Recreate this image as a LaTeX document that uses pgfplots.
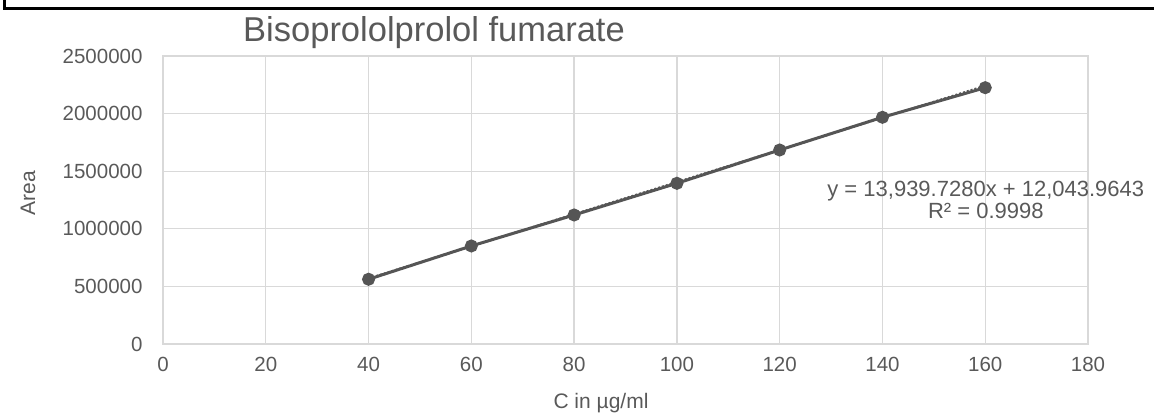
\documentclass[border=0pt]{standalone}
\usepackage{fontspec}
\setmainfont{Liberation Sans}
\usepackage{pgfplots}
\pgfplotsset{compat=1.18}
\definecolor{txt}{HTML}{595959}
\definecolor{gridc}{HTML}{D9D9D9}
\definecolor{ln}{HTML}{555555}
\begin{document}
\begin{tikzpicture}[x=1bp,y=1bp]
\path[use as bounding box] (0,0) rectangle (1154,417);
\draw[line width=3bp,black] (4.5,417) -- (4.5,408.5) -- (1154,408.5);
\begin{axis}[
  at={(163bp,73bp)}, anchor=south west, scale only axis,
  width=925bp, height=288bp,
  xmin=0, xmax=180, ymin=0, ymax=2500000,
  xtick={0,20,...,180}, ytick={0,500000,1000000,1500000,2000000,2500000},
  scaled y ticks=false,
  /pgf/number format/.cd, fixed, 1000 sep={}, assume math mode=true, /pgfplots/.cd,
  grid=major, major grid style={gridc, line width=1.3bp},
  axis line style={gridc, line width=1.6bp},
  major tick length=0pt,
  tick label style={font=\fontsize{20.5bp}{24bp}\selectfont, text=txt},
  yticklabel style={xshift=-17bp},
  xticklabel style={yshift=-10bp},
  xlabel={C in µg/ml},
  xlabel style={at={(axis description cs:0.4735,-0.205)}, anchor=center, font=\fontsize{21bp}{25bp}\selectfont, text=txt},
  ylabel={Area},
  ylabel style={at={(axis description cs:-0.146,0.524)}, anchor=center, rotate=0, font=\fontsize{21bp}{25bp}\selectfont, text=txt},
  title={Bisoprololprolol fumarate},
  title style={at={(axis description cs:0.293,1.097)}, anchor=center, yshift=-10bp, font=\fontsize{34.5bp}{38bp}\selectfont, text=txt},
  clip=false,
]
\addplot[ln, line width=2bp, dotted] coordinates {(40,569633) (160,2242400)};
\addplot[ln, line width=3bp, mark=*, mark size=5bp, mark options={fill=ln, draw=ln}]
  coordinates {(40,562000) (60,851000) (80,1120000) (100,1395000) (120,1684000) (140,1968000) (160,2225000)};
\node[align=center, text=txt, font=\fontsize{22bp}{22bp}\selectfont] at (axis description cs:0.8895,0.5)
  {y = 13,939.7280x + 12,043.9643\\R² = 0.9998};
\end{axis}
\end{tikzpicture}
\end{document}
